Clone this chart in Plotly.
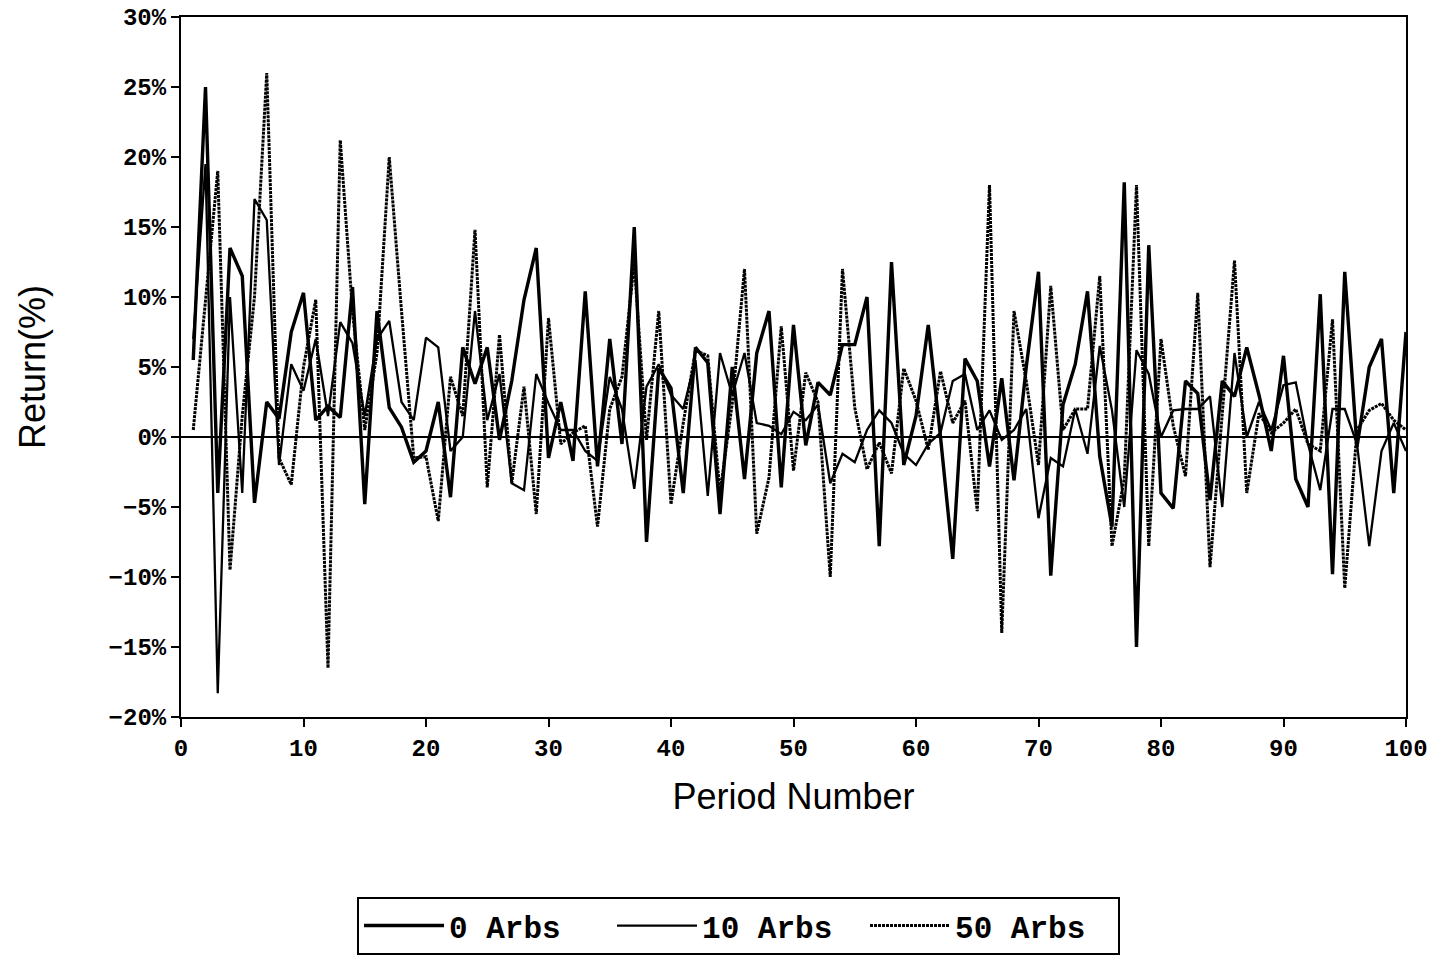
import plotly.graph_objects as go

periods = list(range(1, 101))

arbs_0 = [5.5, 25, -4, 13.5, 11.5, -4.7, 2.5, 1.3, 7.5, 10.3,
          1.2, 2.2, 1.4, 10.7, -4.8, 9, 2.1, 0.7, -1.8, -1.0,
          2.5, -4.3, 6.4, 3.8, 6.4, -0.2, 4, 9.8, 13.5, -1.5,
          2.5, -1.7, 10.4, -2.1, 7, -0.5, 15, -7.5, 4.9, 3.5,
          -4, 6.4, 5.3, -5.5, 5, -3, 6, 9, -3.6, 8,
          -0.6, 3.9, 3.0, 6.6, 6.6, 10, -7.8, 12.5, -2, 1.5,
          8, 0, -8.7, 5.6, 4, -2.1, 4.2, -3.1, 5, 11.8,
          -9.9, 2.3, 5.2, 10.4, -1.4, -6.4, 18.2, -15, 13.7, -4,
          -5.1, 4, 3.1, -4.5, 4, 2.9, 6.4, 3, -1, 5.8,
          -3, -5, 10.2, -9.8, 11.8, -0.7, 5, 7, -4, 7.5]

arbs_10 = [7, 19.5, -18.3, 10, -4, 17, 15.5, -2, 5.2, 3.3,
           7, 1.5, 8.2, 6.7, 1.5, 7, 8.3, 2.5, 1.2, 7.1,
           6.4, -1, 0, 9, 1.2, 4.5, -3.3, -3.8, 4.5, 2.4,
           0.5, 0.5, -1, -1.7, 4.3, 2, -3.7, 3.6, 5.2, 3,
           2, 5.5, -4.2, 6, 3, 6, 1, 0.8, 0.2, 1.8,
           1.2, 2.3, -3.3, -1.2, -1.8, 0.5, 1.9, 1, -1.2, -2,
           -0.5, 0.3, 4, 4.5, 0.5, 1.9, -0.2, 0.5, 2, -5.8,
           -1.5, -2.1, 2, -1.2, 6.5, 1.9, -5, 6.2, 4.5, 0,
           1.9, 2, 2, 2.9, -5, 6, 0, 2.5, 0.5, 3.7,
           3.9, -0.5, -3.8, 2, 2, -0.5, -7.8, -1, 1, -1]

arbs_50 = [0.5, 10, 19, -9.5, 1.5, 10, 26, -1.5, -3.4, 5,
           9.8, -16.5, 21.2, 9, 0.5, 6, 20, 9, -1.5, -1.4,
           -6, 4.3, 1.5, 14.8, -3.6, 7.3, -3.3, 3.6, -5.5, 8.5,
           -0.5, 0.3, 0.8, -6.4, 2, 4.3, 12.4, -0.2, 9, -4.8,
           1, 6.2, 5.8, -4, 2.4, 12, -6.9, -2.9, 7.9, -2.4,
           4.6, 2.5, -10, 12, 2.1, -2.3, -0.4, -2.6, 4.9, 2.6,
           -0.9, 4.7, 1, 2.6, -5.3, 18, -14, 9, 4, -2,
           10.8, 0.5, 2, 2, 11.5, -7.8, -3, 18, -7.8, 7,
           0.8, -2.8, 10.3, -9.3, 1.5, 12.6, -4, 1.7, 0.3, 1,
           2, -0.5, -1, 8.4, -10.8, 0.5, 1.9, 2.4, 1.2, 0.5]

series_names = ["0 Arbs", "10 Arbs", "50 Arbs"]

fig = go.Figure()
fig.add_trace(go.Scatter(x=periods, y=arbs_0, mode="lines", name=series_names[0],
                         line=dict(color="#000000", width=3.4)))
fig.add_trace(go.Scatter(x=periods, y=arbs_10, mode="lines", name=series_names[1],
                         line=dict(color="#000000", width=2.3)))
fig.add_trace(go.Scatter(x=periods, y=arbs_50, mode="lines", name=series_names[2],
                         line=dict(color="#000000", width=3, dash="3px,1px")))

tick_font = dict(family="Liberation Mono", size=24, color="black", weight="bold")

fig.update_layout(
    width=1440, height=962,
    margin=dict(l=181, r=34, t=17, b=245, autoexpand=False),
    paper_bgcolor="white", plot_bgcolor="white",
    showlegend=True,
    legend=dict(
        orientation="h",
        x=0.1437, y=-0.257, xanchor="left", yanchor="top",
        bordercolor="black", borderwidth=2,
        font=dict(family="Liberation Mono", size=31, color="black", weight="bold"),
        itemwidth=80,
        entrywidth=158,
        entrywidthmode="pixels",
        bgcolor="white",
    ),
    xaxis=dict(
        range=[0, 100], dtick=10, tick0=0,
        ticks="outside", ticklen=8, tickwidth=2, tickcolor="black",
        showline=True, linecolor="black", linewidth=2, mirror=True,
        showgrid=False, zeroline=False, automargin=False,
        ticklabeloverflow="allow",
        tickfont=tick_font,
        title=dict(text="Period Number",
                   font=dict(family="Liberation Sans", size=36, color="black"),
                   standoff=22),
    ),
    yaxis=dict(
        range=[-20, 30], dtick=5, tick0=0,
        ticksuffix="%",
        ticks="outside", ticklen=8, tickwidth=2, tickcolor="black",
        showline=True, linecolor="black", linewidth=2, mirror=True,
        showgrid=False, automargin=False,
        ticklabeloverflow="allow",
        zeroline=True, zerolinecolor="black", zerolinewidth=2,
        tickfont=tick_font,
        title=dict(text="Return(%)",
                   font=dict(family="Liberation Sans", size=36, color="black"),
                   standoff=52),
    ),
)

fig.write_html(
    "out.html",
    config={"displayModeBar": False},
    post_script="document.body.style.margin='0';document.body.style.padding='0';",
)
